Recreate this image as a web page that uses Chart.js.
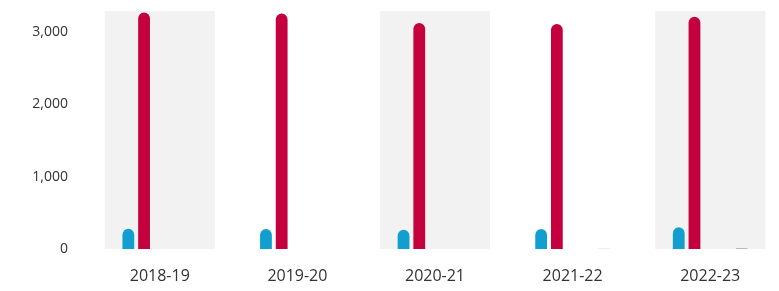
<!DOCTYPE html>
<html>
<head>
<meta charset="utf-8">
<script src="https://cdn.jsdelivr.net/npm/chart.js@4"></script>
<style>
  html, body { margin: 0; padding: 0; background: #fff; }
  #chart { display: block; }
</style>
</head>
<body>
<canvas id="chart" width="779" height="291"></canvas>
<script>
const years = ["2018-19", "2019-20", "2020-21", "2021-22", "2022-23"];
const seriesA = [0, 0, 0, 0, 0];
const seriesBlue = [280, 275, 265, 275, 300];
const seriesRed = [3270, 3255, 3125, 3110, 3210];
const seriesD = [0, 0, 0, 0, 0];
const seriesE = [0, 0, 0, 0, 0];
const seriesGray = [0, 0, 0, 5, 15];
const seriesG = [0, 0, 0, 0, 0];
const yTicks = [0, 1000, 2000, 3000];

// shaded band behind every other year group
const bandPlugin = {
  id: "bands",
  beforeDatasetsDraw(chart) {
    const { ctx, chartArea, scales } = chart;
    const x = scales.x;
    const step = x.getPixelForValue(1) - x.getPixelForValue(0);
    ctx.save();
    ctx.fillStyle = "#f2f2f2";
    years.forEach((year, i) => {
      if (i % 2 !== 0) return;
      const center = x.getPixelForValue(i);
      ctx.fillRect(center - step * 0.4, chartArea.top, step * 0.8, chartArea.bottom - chartArea.top);
    });
    ctx.restore();
  },
};

function bar(label, data, color) {
  return {
    label,
    data,
    backgroundColor: color,
    borderRadius: 6,
    borderSkipped: "bottom",
    barPercentage: 0.75,
    categoryPercentage: 0.8,
  };
}

new Chart(document.querySelector("#chart"), {
  type: "bar",
  data: {
    labels: years,
    datasets: [
      bar("A", seriesA, "#d0d5da"),
      bar("Blue", seriesBlue, "#129fd0"),
      bar("Red", seriesRed, "#c4003f"),
      bar("D", seriesD, "#d0d5da"),
      bar("E", seriesE, "#d0d5da"),
      bar("Gray", seriesGray, "#b4bcc4"),
      bar("G", seriesG, "#d0d5da"),
    ],
  },
  options: {
    responsive: false,
    animation: false,
    layout: { padding: { top: 11, right: 0, left: 0, bottom: 0 } },
    plugins: { legend: { display: false }, tooltip: { enabled: false } },
    scales: {
      x: {
        grid: { display: false, drawTicks: false },
        border: { display: false },
        ticks: { color: "#333", font: { family: "Open Sans", size: 16 }, padding: 18 },
        afterFit: (scale) => { scale.height = 42; },
      },
      y: {
        min: 0,
        max: 3290,
        grid: { display: false, drawTicks: false },
        border: { display: false },
        afterBuildTicks: (scale) => { scale.ticks = yTicks.map((value) => ({ value })); },
        ticks: {
          color: "#333",
          font: { family: "Open Sans", size: 14 },
          padding: 23,
          callback: (value) => value.toLocaleString("en-US"),
        },
        afterFit: (scale) => {
          scale.width = 91;
          scale.paddingTop = 0;
          scale.paddingBottom = 0;
        },
      },
    },
  },
  plugins: [bandPlugin],
});
</script>
</body>
</html>
